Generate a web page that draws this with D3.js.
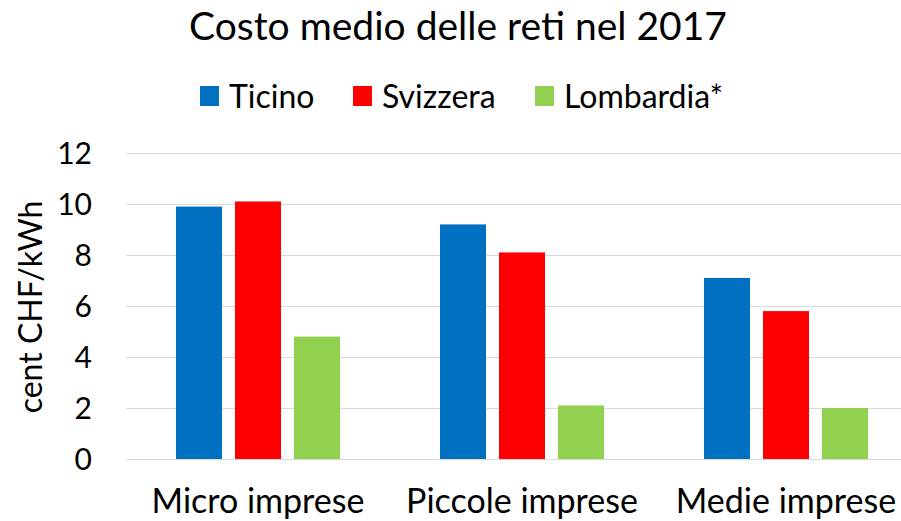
<!DOCTYPE html>
<html>
<head>
<meta charset="utf-8">
<script src="https://cdn.jsdelivr.net/npm/d3@7"></script>
<style>
  body { margin: 0; background: #fff; }
  svg { display: block; font-family: Lato, "Open Sans", sans-serif; }
  .grid line { stroke: #d9d9d9; stroke-width: 1; }
  .grid path { display: none; }
</style>
</head>
<body>
<svg width="901" height="521"></svg>
<script>
// data
var categories = ["Micro imprese", "Piccole imprese", "Medie imprese"];
var series = ["Ticino", "Svizzera", "Lombardia*"];
var colors = ["#0070c0", "#ff0000", "#92d050"];
var ticino = [9.9, 9.2, 7.1];
var svizzera = [10.1, 8.1, 5.8];
var lombardia = [4.8, 2.1, 2.0];
var yTicks = [0, 2, 4, 6, 8, 10, 12];

var values = [ticino, svizzera, lombardia];

var svg = d3.select("svg"),
    width = +svg.attr("width"),
    height = +svg.attr("height");

// the plot runs past the right edge of the picture (it was cropped)
var plotLeft = 126, plotRight = 918, plotTop = 153, plotBottom = 459;

var x0 = d3.scaleBand().domain(categories).range([plotLeft, plotRight]).padding(0);
var x1 = d3.scaleBand().domain(series).range([50, 214]).paddingInner(0.22).paddingOuter(0);
var y = d3.scaleLinear().domain([0, 12]).range([plotBottom, plotTop]);

// gridlines
svg.append("g")
    .attr("class", "grid")
    .attr("transform", "translate(" + plotLeft + ",0)")
    .call(d3.axisLeft(y).tickValues(yTicks).tickSize(-(plotRight - plotLeft)).tickFormat(""));

// tick labels
svg.append("g")
    .selectAll("text")
    .data(yTicks)
    .enter().append("text")
    .attr("x", 92)
    .attr("y", function(d) { return y(d); })
    .attr("dy", "0.35em")
    .attr("text-anchor", "end")
    .style("font-size", "30px")
    .text(function(d) { return d; });

// bars
var group = svg.append("g")
    .selectAll("g")
    .data(categories)
    .enter().append("g")
    .attr("transform", function(d) { return "translate(" + x0(d) + ",0)"; });

group.selectAll("rect")
    .data(function(d, i) {
        return series.map(function(s, j) { return {s: s, j: j, v: values[j][i]}; });
    })
    .enter().append("rect")
    .attr("x", function(d) { return x1(d.s); })
    .attr("y", function(d) { return y(d.v); })
    .attr("width", x1.bandwidth())
    .attr("height", function(d) { return plotBottom - y(d.v); })
    .attr("fill", function(d) { return colors[d.j]; });

// category labels
svg.append("g")
    .selectAll("text")
    .data(categories)
    .enter().append("text")
    .attr("x", function(d) { return x0(d) + x0.bandwidth() / 2; })
    .attr("y", 513)
    .attr("text-anchor", "middle")
    .style("font-size", "34px")
    .text(function(d) { return d; });

// y axis title
svg.append("text")
    .attr("transform", "translate(42,307) rotate(-90)")
    .attr("text-anchor", "middle")
    .style("font-size", "32px")
    .text("cent CHF/kWh");

// title
svg.append("text")
    .attr("x", 458)
    .attr("y", 40)
    .attr("text-anchor", "middle")
    .style("font-size", "39px")
    .text("Costo medio delle reti nel 2017");

// legend
var legendX = [200, 353, 535];
var legend = svg.append("g")
    .selectAll("g")
    .data(series)
    .enter().append("g")
    .attr("transform", function(d, i) { return "translate(" + legendX[i] + ",86)"; });

legend.append("rect")
    .attr("width", 19)
    .attr("height", 20)
    .attr("fill", function(d, i) { return colors[i]; });

legend.append("text")
    .attr("x", 29)
    .attr("y", 22)
    .style("font-size", "32px")
    .text(function(d) { return d; });
</script>
</body>
</html>
